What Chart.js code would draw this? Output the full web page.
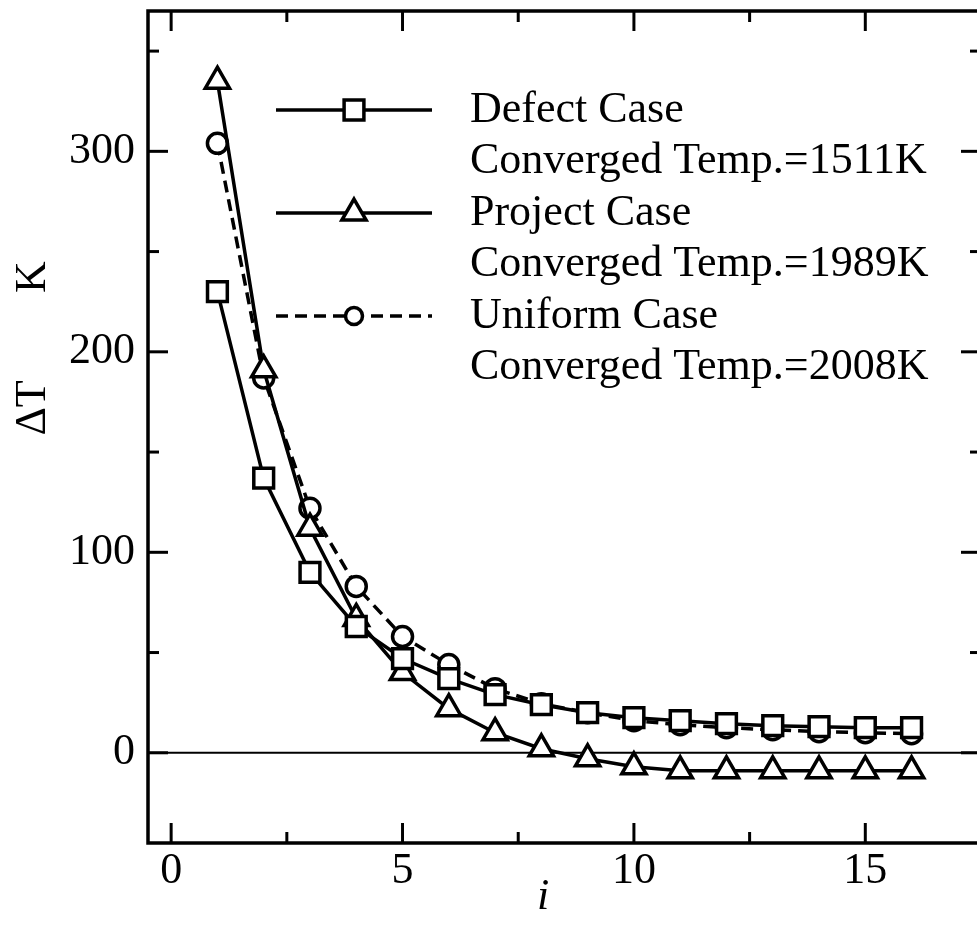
<!DOCTYPE html>
<html>
<head>
<meta charset="utf-8">
<script src="https://cdn.jsdelivr.net/npm/chart.js@4.4.1/dist/chart.umd.min.js"></script>
<style>
  body { margin: 0; background: #fff; overflow: hidden; }
  /* a few pixels wider than the window so the right frame edge falls outside */
  #wrap { width: 981px; height: 927px; }
</style>
</head>
<body>
<div id="wrap"><canvas id="convChart"></canvas></div>
<script>
// iteration number and temperature change per iteration (K)
const iterations = [1, 2, 3, 4, 5, 6, 7, 8, 9, 10, 11, 12, 13, 14, 15, 16];
const defectVals = [230, 137, 90, 63, 47, 37, 29, 24, 20, 17.5, 16, 14.5, 13.5, 13, 12.5, 12.5];
const projectVals = [335, 191, 112, 67, 40, 22, 10, 2, -3, -7, -9, -9, -9, -9, -9, -9];
const uniformVals = [304, 187, 122, 83, 58, 44, 32, 24.5, 20, 16, 14, 12.5, 11.5, 10.5, 10, 9.5];

const seriesNames = ["Defect Case", "Project Case", "Uniform Case"];
const convergedText = ["Converged Temp.=1511K", "Converged Temp.=1989K", "Converged Temp.=2008K"];

const xMajor = [0, 5, 10, 15];
const xMinor = [2.5, 7.5, 12.5];
const yMajor = [0, 100, 200, 300];
const yMinor = [50, 150, 250, 350];

const FONT = "'Liberation Serif', 'Times New Roman', serif";

function toPoints(vals) {
    return iterations.map((it, i) => ({ x: it, y: vals[i] }));
}

function makeSet(label, vals, style, radius, dash) {
    return {
        label: label,
        data: toPoints(vals),
        borderColor: "#000",
        borderWidth: 3.5,
        borderDash: dash,
        pointStyle: style,
        pointRadius: radius,
        pointHoverRadius: radius,
        pointBorderWidth: 3.5,
        pointBackgroundColor: "#fff",
        pointBorderColor: "#000",
        tension: 0,
        fill: false
    };
}

// no extra room around the plot for half labels
function noPad(s) {
    s.paddingTop = 0;
    s.paddingBottom = 0;
    s.paddingLeft = 0;
    s.paddingRight = 0;
}

// frame, inward ticks, zero line, axis titles and legend
const framePlugin = {
    id: "frame",
    beforeDatasetsDraw(chart) {
        const { ctx, chartArea: a, scales } = chart;
        const y0 = scales.y.getPixelForValue(0);
        ctx.save();
        ctx.strokeStyle = "#000";
        ctx.lineWidth = 2;
        ctx.beginPath();
        ctx.moveTo(a.left, y0);
        ctx.lineTo(a.right, y0);
        ctx.stroke();
        ctx.restore();
    },
    afterDraw(chart) {
        const { ctx, chartArea: a, scales } = chart;
        const sx = scales.x, sy = scales.y;
        ctx.save();
        ctx.strokeStyle = "#000";
        ctx.lineWidth = 3.5;
        ctx.strokeRect(a.left, a.top, a.right - a.left, a.bottom - a.top);

        ctx.lineWidth = 3;
        const tick = (x1, y1, x2, y2) => {
            ctx.beginPath(); ctx.moveTo(x1, y1); ctx.lineTo(x2, y2); ctx.stroke();
        };
        xMajor.forEach(v => {
            const x = sx.getPixelForValue(v);
            tick(x, a.bottom, x, a.bottom - 20);
            tick(x, a.top, x, a.top + 20);
        });
        xMinor.forEach(v => {
            const x = sx.getPixelForValue(v);
            tick(x, a.bottom, x, a.bottom - 11);
            tick(x, a.top, x, a.top + 11);
        });
        yMajor.forEach(v => {
            const y = sy.getPixelForValue(v);
            tick(a.left, y, a.left + 20, y);
            tick(a.right, y, a.right - 20, y);
        });
        yMinor.forEach(v => {
            const y = sy.getPixelForValue(v);
            tick(a.left, y, a.left + 11, y);
            tick(a.right, y, a.right - 11, y);
        });

        // axis titles
        ctx.fillStyle = "#000";
        ctx.textAlign = "center";
        ctx.textBaseline = "middle";
        ctx.font = "italic 44px " + FONT;
        ctx.fillText("i", 543, 897);
        ctx.save();
        ctx.translate(33, 0);
        ctx.rotate(-Math.PI / 2);
        ctx.font = "44px " + FONT;
        ctx.fillText("\u0394T", -408, 0);
        ctx.fillText("K", -277, 0);
        ctx.restore();

        // legend
        const sets = chart.data.datasets;
        const lineX1 = 276, lineX2 = 432, textX = 470;
        const rowH = 51.5, top = 110;
        sets.forEach((ds, i) => {
            const y = top + i * 2 * rowH;
            ctx.save();
            ctx.lineWidth = ds.borderWidth;
            ctx.setLineDash(ds.borderDash || []);
            ctx.beginPath();
            ctx.moveTo(lineX1, y);
            ctx.lineTo(lineX2, y);
            ctx.stroke();
            ctx.setLineDash([]);
            ctx.fillStyle = "#fff";
            ctx.lineWidth = ds.pointBorderWidth;
            Chart.helpers.drawPoint(ctx, {
                pointStyle: ds.pointStyle,
                radius: ds.pointStyle === "circle" ? 8.5 : ds.pointRadius,
                rotation: 0,
                borderWidth: ds.pointBorderWidth
            }, 354, y);
            ctx.restore();

            ctx.fillStyle = "#000";
            ctx.textAlign = "left";
            ctx.textBaseline = "middle";
            ctx.font = "44px " + FONT;
            ctx.fillText(seriesNames[i], textX, y);
            ctx.fillText(convergedText[i], textX, y + rowH);
        });
        ctx.restore();
    }
};

const ctx = document.getElementById("convChart").getContext("2d");
const chart = new Chart(ctx, {
    type: "line",
    data: {
        datasets: [
            makeSet(seriesNames[0], defectVals, "rect", 14, []),
            makeSet(seriesNames[1], projectVals, "triangle", 14, []),
            makeSet(seriesNames[2], uniformVals, "circle", 10, [12, 7])
        ]
    },
    options: {
        responsive: true,
        maintainAspectRatio: false,
        animation: false,
        layout: { autoPadding: false, padding: { top: 11, left: 0, right: 0, bottom: 0 } },
        plugins: {
            legend: { display: false },
            tooltip: { enabled: false }
        },
        scales: {
            x: {
                type: "linear",
                min: -0.5,
                max: 17.5,
                grid: { display: false, drawTicks: false },
                border: { display: false },
                afterBuildTicks: s => { s.ticks = xMajor.map(v => ({ value: v })); },
                afterFit: s => { s.height = 84; noPad(s); },
                ticks: {
                    autoSkip: false,
                    maxRotation: 0,
                    padding: 2,
                    color: "#000",
                    font: { family: FONT, size: 44 }
                }
            },
            y: {
                min: -45,
                max: 370,
                grid: { display: false, drawTicks: false },
                border: { display: false },
                afterBuildTicks: s => { s.ticks = yMajor.map(v => ({ value: v })); },
                afterFit: s => { s.width = 148; noPad(s); },
                ticks: {
                    autoSkip: false,
                    padding: 13,
                    color: "#000",
                    font: { family: FONT, size: 44 }
                }
            }
        }
    },
    plugins: [framePlugin]
});
</script>
</body>
</html>
